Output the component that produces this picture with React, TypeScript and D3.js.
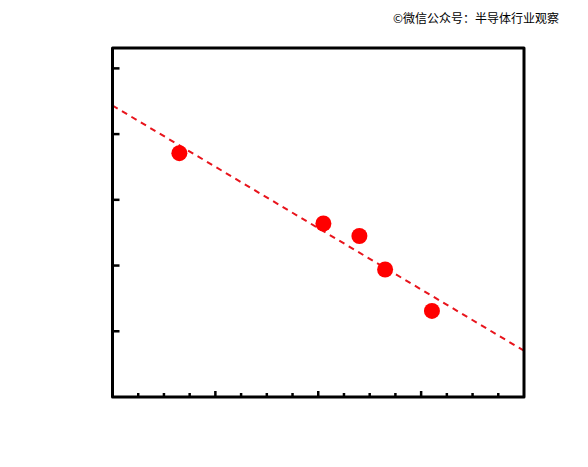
import React from "react";
import * as d3 from "d3";

const pointX = [2.6, 8.2, 9.6, 10.6, 12.42];
const pointY = [3.71, 2.64, 2.45, 1.94, 1.31];
const xTicks = [1, 2, 3, 4, 5, 6, 7, 8, 9, 10, 11, 12, 13, 14, 15];
const xMajorTicks = [4, 8, 12];
const yTicks = [1, 2, 3, 4, 5];
const watermark = "©微信公众号：半导体行业观察";

export default function App() {
  const W = 588, H = 467;
  const left = 112.5, right = 524, top = 48, bottom = 397;
  const x = d3.scaleLinear().domain([0, 16]).range([left, right]);
  const y = d3.scaleLinear().domain([0, 5.31]).range([bottom, top]);

  // least squares fit of the points
  const mx = d3.mean(pointX)!;
  const my = d3.mean(pointY)!;
  let sxy = 0, sxx = 0;
  pointX.forEach((v, i) => {
    sxy += (v - mx) * (pointY[i] - my);
    sxx += (v - mx) * (v - mx);
  });
  const slope = sxy / sxx;
  const intercept = my - slope * mx;
  const fitLine = d3.line<number>().x((d) => x(d)).y((d) => y(intercept + slope * d));

  return (
    <svg width={W} height={H} style={{ position: "absolute", left: 0, top: 0, background: "#fff" }}>
      <text x={393} y={23} fontSize={12} fontFamily="'Noto Sans CJK SC', sans-serif" fill="#000">
        {watermark}
      </text>
      <path
        d={fitLine([0, 16]) || ""}
        fill="none"
        stroke="#e8141c"
        strokeWidth={2}
        strokeDasharray="6,5"
      />
      {pointX.map((v, i) => (
        <circle key={i} cx={x(v)} cy={y(pointY[i])} r={8} fill="#ff0000" />
      ))}
      {xTicks.map((t) => {
        const len = xMajorTicks.includes(t) ? 6 : 4;
        return (
          <line key={"xt" + t} x1={x(t)} x2={x(t)} y1={bottom} y2={bottom - len} stroke="#000" strokeWidth={2.5} />
        );
      })}
      {yTicks.map((t) => (
        <line key={"yt" + t} x1={left} x2={left + 7} y1={y(t)} y2={y(t)} stroke="#000" strokeWidth={2.5} />
      ))}
      <rect
        x={left}
        y={top}
        width={right - left}
        height={bottom - top}
        fill="none"
        stroke="#000"
        strokeWidth={3}
        strokeLinejoin="round"
      />
    </svg>
  );
}
